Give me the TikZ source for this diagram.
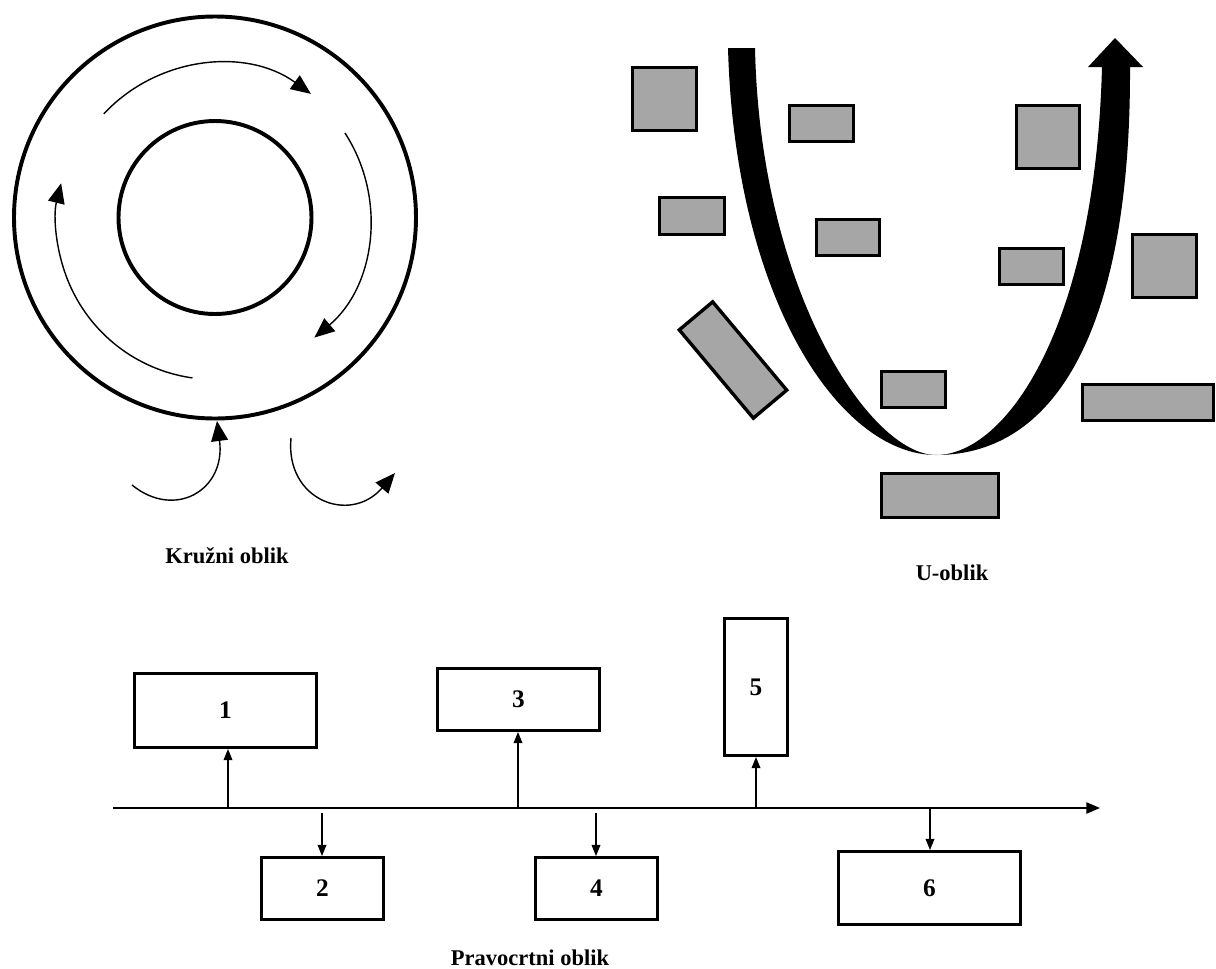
\documentclass[tikz,border=0pt]{standalone}
\usepackage{fontspec}
\setmainfont{Liberation Serif}
\usetikzlibrary{arrows.meta}

\definecolor{blockgray}{HTML}{A6A6A6}

\tikzset{
  ring/.style={line width=2.8pt},
  flow/.style={line width=1pt, -{Triangle[length=0.5cm,width=0.42cm]}},
  ublock/.style={draw, line width=2.4pt, fill=blockgray},
  stage/.style={draw, line width=2.1pt, inner sep=0pt, font=\fontsize{18}{21}\selectfont\bfseries},
  feed/.style={line width=0.9pt, -{Triangle[length=0.28cm,width=0.22cm]}},
  axisline/.style={line width=1.2pt, -{Triangle[length=0.34cm,width=0.28cm]}},
  caption/.style={font=\fontsize{16}{19}\selectfont\bfseries, anchor=base}
}

\begin{document}
\begin{tikzpicture}[x=0.025cm, y=-0.025cm]
  \useasboundingbox (0,0) rectangle (1216,968);

  % Kruzni oblik: two rings
  \coordinate (cc) at (215,217.5);
  \draw[ring] (cc) circle (201);
  \draw[ring] (cc) circle (96.5);

  % flow round the ring
  \draw[flow] (cc) ++(-137:152) arc[start angle=-137, end angle=-54, radius=157];
  \draw[flow] (cc) ++(-33:155) arc[start angle=-33, end angle=50, radius=156];
  \draw[flow] (cc) ++(98:162) arc[start angle=98, end angle=194, radius=158];

  % in and out
  \draw[flow] (132,485) .. controls (175,520) and (226,490) .. (217,421);
  \draw[flow] (291,438) .. controls (285,500) and (350,525) .. (395,473);

  \node[caption] (lblcirc) at (227,563) {Kružni oblik};

  % U-oblik: blocks
  \draw[ublock] (632.7,67.7) rectangle (696.3,130.3);
  \draw[ublock] (789.7,105.7) rectangle (853.3,141.3);
  \draw[ublock] (1016.7,105.7) rectangle (1079.3,168.3);
  \draw[ublock] (659.7,197.7) rectangle (724.3,234.3);
  \draw[ublock] (816.7,219.7) rectangle (879.3,255.3);
  \draw[ublock] (999.7,248.7) rectangle (1063.3,284.3);
  \draw[ublock] (1132.7,234.7) rectangle (1196.3,297.3);
  \draw[ublock] (881.7,371.7) rectangle (945.3,407.3);
  \draw[ublock] (1082.7,384.7) rectangle (1213.3,420.3);
  \draw[ublock] (881.7,473.7) rectangle (998.3,517.3);
  \node[ublock, inner sep=0pt, minimum width=2.88cm, minimum height=1.09cm, rotate=-50] (tilt) at (733,360) {};

  % U-shaped flow
  \fill (728,48) .. controls (735,300) and (840,455) .. (936,455)
    .. controls (1060,455) and (1131,320) .. (1130,67)
    -- (1143,67) -- (1115,38) -- (1088,67) -- (1102,67)
    .. controls (1095,330) and (1005,455) .. (936,455)
    .. controls (870,455) and (760,290) .. (755,48) -- cycle;

  \node[caption] (lblu) at (952,580) {U-oblik};

  % Pravocrtni oblik
  \coordinate (axl) at (113,808);
  \coordinate (axr) at (1100,808);
  \draw[axisline] (axl) -- (axr);

  \node[stage, minimum width=4.55cm, minimum height=1.85cm] (b1) at (225.5,710.5) {1};
  \node[stage, minimum width=3.05cm, minimum height=1.55cm] (b2) at (322.5,888.5) {2};
  \node[stage, minimum width=4.05cm, minimum height=1.55cm] (b3) at (518.5,699.5) {3};
  \node[stage, minimum width=3.05cm, minimum height=1.55cm] (b4) at (596.5,888.5) {4};
  \node[stage, minimum width=1.575cm, minimum height=3.425cm] (b5) at (756,687) {5};
  \node[stage, minimum width=4.55cm, minimum height=1.825cm] (b6) at (929.5,888) {6};

  \coordinate (f1) at (228,808);
  \coordinate (f2) at (322,813);
  \coordinate (f3) at (518,808);
  \coordinate (f4) at (596,813);
  \coordinate (f5) at (756,808);
  \coordinate (f6) at (930,808);

  \draw[feed] (f1) -- (f1 |- b1.south);
  \draw[feed] (f2) -- (f2 |- b2.north);
  \draw[feed] (f3) -- (f3 |- b3.south);
  \draw[feed] (f4) -- (f4 |- b4.north);
  \draw[feed] (f5) -- (f5 |- b5.south);
  \draw[feed] (f6) -- (f6 |- b6.north);

  \node[caption] (lbllin) at (530,965) {Pravocrtni oblik};

\end{tikzpicture}
\end{document}
